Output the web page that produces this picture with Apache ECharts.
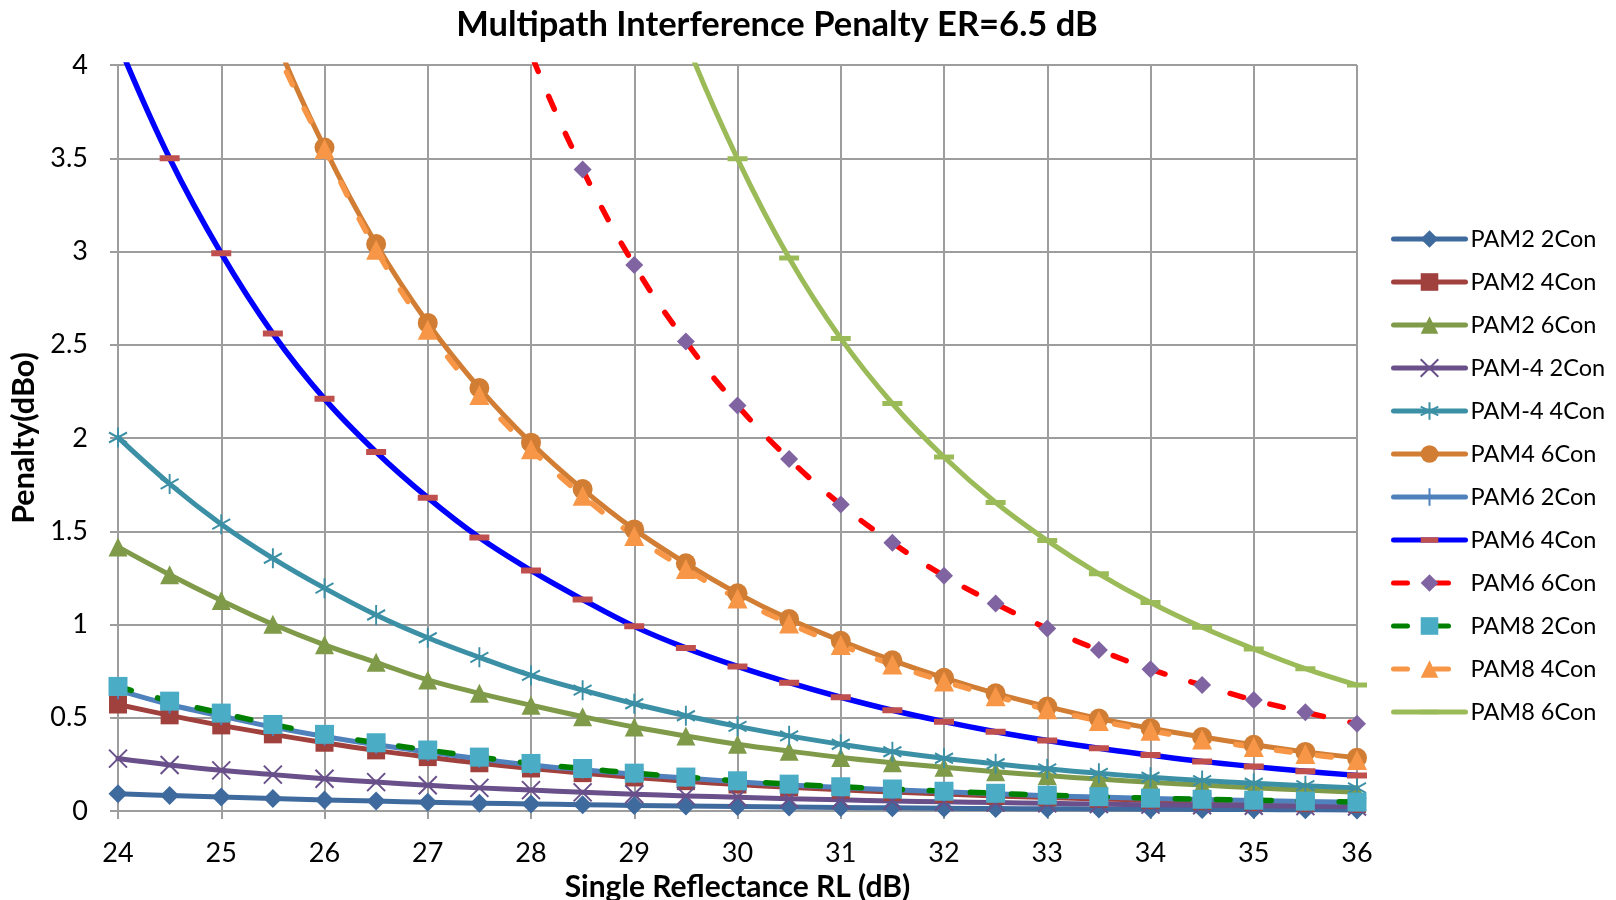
<!DOCTYPE html>
<html><head><meta charset="utf-8">
<script src="https://cdn.jsdelivr.net/npm/echarts@6/dist/echarts.min.js"></script>
<style>html,body{margin:0;padding:0;background:#fff}#c{width:1616px;height:900px}</style>
</head><body><div id="c"></div>
<script>
// ---- data ----
const rl = [24,24.5,25,25.5,26,26.5,27,27.5,28,28.5,29,29.5,30,30.5,31,31.5,32,32.5,33,33.5,34,34.5,35,35.5,36];
const pam2_2con = [0.092,0.083,0.075,0.067,0.059,0.053,0.047,0.042,0.038,0.034,0.030,0.027,0.024,0.021,0.019,0.017,0.015,0.013,0.012,0.011,0.0095,0.0085,0.0075,0.0067,0.006];
const pam2_4con = [0.571,0.513,0.459,0.411,0.366,0.325,0.289,0.256,0.228,0.203,0.180,0.160,0.142,0.127,0.114,0.102,0.091,0.081,0.073,0.065,0.058,0.052,0.047,0.042,0.038];
const pam2_6con = [1.416,1.267,1.129,1.001,0.891,0.797,0.703,0.631,0.567,0.506,0.450,0.402,0.358,0.321,0.287,0.259,0.234,0.211,0.190,0.171,0.154,0.139,0.125,0.112,0.101];
const pamm4_2con = [0.281,0.247,0.218,0.195,0.173,0.155,0.138,0.124,0.112,0.100,0.090,0.081,0.074,0.066,0.060,0.054,0.049,0.045,0.041,0.037,0.034,0.031,0.028,0.026,0.024];
const pamm4_4con = [2.003,1.754,1.538,1.355,1.195,1.051,0.929,0.824,0.727,0.648,0.575,0.511,0.454,0.403,0.358,0.318,0.283,0.253,0.226,0.202,0.181,0.163,0.149,0.136,0.124];
const pam4_6con = [7.0,5.9,4.95,4.18,3.557,3.04,2.617,2.268,1.975,1.726,1.510,1.328,1.167,1.029,0.913,0.808,0.714,0.631,0.560,0.496,0.444,0.397,0.355,0.317,0.285];
const pam6_2con = [0.648,0.571,0.509,0.450,0.399,0.355,0.317,0.280,0.247,0.221,0.197,0.177,0.157,0.140,0.126,0.114,0.103,0.092,0.082,0.075,0.067,0.061,0.056,0.051,0.047];
const pam6_4con = [4.12,3.5,2.99,2.56,2.21,1.925,1.68,1.466,1.29,1.134,0.99,0.874,0.775,0.688,0.61,0.54,0.479,0.425,0.378,0.336,0.3,0.266,0.238,0.213,0.191];
const pam6_6con = [null,null,null,null,null,null,5.7,4.8,4.06,3.44,2.927,2.517,2.174,1.887,1.643,1.438,1.261,1.112,0.979,0.863,0.76,0.675,0.595,0.529,0.468];
const pam8_2con = [0.668,0.589,0.525,0.464,0.411,0.366,0.327,0.289,0.255,0.228,0.203,0.182,0.162,0.144,0.130,0.118,0.106,0.095,0.085,0.077,0.069,0.063,0.058,0.053,0.048];
const pam8_4con = [6.9,5.8,4.88,4.13,3.55,3.01,2.58,2.23,1.94,1.69,1.475,1.297,1.14,1.005,0.89,0.785,0.695,0.615,0.545,0.483,0.43,0.383,0.343,0.306,0.273];
const pam8_6con = [null,null,null,null,null,null,null,null,null,null,4.9,4.13,3.497,2.965,2.534,2.185,1.898,1.654,1.45,1.272,1.118,0.985,0.869,0.763,0.675];
const seriesNames = ['PAM2 2Con','PAM2 4Con','PAM2 6Con','PAM-4 2Con','PAM-4 4Con','PAM4 6Con','PAM6 2Con','PAM6 4Con','PAM6 6Con','PAM8 2Con','PAM8 4Con','PAM8 6Con'];
const seriesValues = [pam2_2con,pam2_4con,pam2_6con,pamm4_2con,pamm4_4con,pam4_6con,pam6_2con,pam6_4con,pam6_6con,pam8_2con,pam8_4con,pam8_6con];
const titleText = 'Multipath Interference Penalty ER=6.5 dB';
const xName = 'Single Reflectance RL (dB)';
const yName = 'Penalty(dBo)';

// ---- styles ----
const SYM_X = 'path://M0,0L10,10M10,0L0,10';
const SYM_STAR = 'path://M5,0L5,10M0.67,2.5L9.33,7.5M0.67,7.5L9.33,2.5';
const SYM_PLUS = 'path://M5,0L5,10M0,5L10,5';
const SYM_DASH_S = 'path://M10,0L10.01,0.01Z M10,20L10.01,19.99Z M5,7L15,7L15,13L5,13Z';
const SYM_DASH_W = 'path://M10,0L10.01,0.01Z M10,20L10.01,19.99Z M0,7.5L20,7.5L20,12.5L0,12.5Z';
const styles = [
  {line:'#3F6A9E', w:5, dash:'solid', sym:'diamond', size:19, mc:'#3F6A9E'},
  {line:'#A0413E', w:5, dash:'solid', sym:'rect', size:18, mc:'#A0413E'},
  {line:'#7F9A48', w:5, dash:'solid', sym:'triangle', size:19, mc:'#7F9A48'},
  {line:'#69508A', w:5, dash:'solid', sym:SYM_X, size:18, mc:'#69508A', stroke:true},
  {line:'#3C90A6', w:5, dash:'solid', sym:SYM_STAR, size:[18,20], mc:'#3C90A6', stroke:true},
  {line:'#D17D34', w:5, dash:'solid', sym:'circle', size:20, mc:'#D17D34'},
  {line:'#4F81BD', w:5, dash:'solid', sym:SYM_PLUS, size:18, mc:'#4F81BD', stroke:true},
  {line:'#0000FF', w:5.5, dash:'solid', sym:SYM_DASH_S, size:20, mc:'#C0504D'},
  {line:'#FF0000', w:5.5, dash:[14,27], sym:'diamond', size:18, mc:'#8064A2'},
  {line:'#008000', w:5.5, dash:[14,27], sym:'rect', size:19, mc:'#4BACC6'},
  {line:'#F79646', w:5.5, dash:[14,27], sym:'triangle', size:20, mc:'#F79646'},
  {line:'#9BBB59', w:5, dash:'solid', sym:SYM_DASH_W, size:20, mc:'#9BBB59'}
];

const series = seriesNames.map((name, k) => {
  const st = styles[k];
  return {
    name: name,
    type: 'line',
    data: rl.map((x, i) => [x, seriesValues[k][i]]),
    smooth: 0.4,
    clip: true,
    symbol: st.sym,
    symbolSize: st.size,
    showAllSymbol: true,
    lineStyle: {color: st.line, width: st.w, type: st.dash, cap: 'round', join: 'round'},
    itemStyle: st.stroke ? {color: st.mc, borderColor: st.mc, borderWidth: 2}
                         : {color: st.mc, borderWidth: 0},
    emphasis: {disabled: true}
  };
});

const FONT = 'Lato';
const gridColor = '#9d9d9d';
const chart = echarts.init(document.getElementById('c'), null, {renderer: 'canvas'});
chart.setOption({
  animation: false,
  backgroundColor: '#fff',
  title: {
    text: titleText, left: 772, top: 2, textAlign: 'center',
    textStyle: {fontFamily: FONT, fontWeight: 'bold', fontSize: 34.5, color: '#000'}
  },
  grid: {left: 118, top: 65, right: 259, bottom: 89, containLabel: false, outerBoundsMode: 'none'},
  legend: {
    orient: 'vertical', left: 1386, top: 221,
    itemWidth: 72, itemHeight: 22, itemGap: 17,
    lineStyle: {width: 5},
    textStyle: {fontFamily: FONT, fontSize: 23.5, color: '#000', lineHeight: 26},
    data: seriesNames
  },
  xAxis: {
    type: 'value', min: 24, max: 36, interval: 1,
    name: xName, nameLocation: 'middle', nameGap: 53,
    nameTextStyle: {fontFamily: FONT, fontWeight: 'bold', fontSize: 30, color: '#000'},
    axisLine: {show: true, lineStyle: {color: gridColor, width: 2}},
    axisTick: {show: true, inside: false, length: 8, lineStyle: {color: gridColor, width: 2}},
    axisLabel: {fontFamily: FONT, fontSize: 27, color: '#000', margin: 29},
    splitLine: {show: true, lineStyle: {color: gridColor, width: 2}}
  },
  yAxis: {
    type: 'value', min: 0, max: 4, interval: 0.5,
    name: yName, nameLocation: 'middle', nameGap: 76, nameRotate: 90,
    nameTextStyle: {fontFamily: FONT, fontWeight: 'bold', fontSize: 30.5, color: '#000'},
    axisLine: {show: true, lineStyle: {color: gridColor, width: 2}},
    axisTick: {show: true, inside: false, length: 8, lineStyle: {color: gridColor, width: 2}},
    axisLabel: {fontFamily: FONT, fontSize: 27, color: '#000', margin: 30},
    splitLine: {show: true, lineStyle: {color: gridColor, width: 2}}
  },
  series: series
});
</script></body></html>
